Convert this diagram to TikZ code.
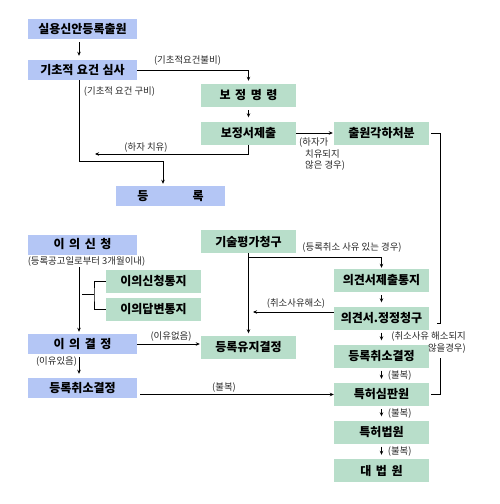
\documentclass[tikz,border=0pt]{standalone}
\usepackage{fontspec}
\setmainfont{Noto Sans CJK KR}
\usetikzlibrary{arrows.meta,positioning}
\definecolor{regblue}{RGB}{180,198,245}
\definecolor{mintgreen}{RGB}{184,222,202}
\definecolor{notegray}{RGB}{40,40,40}
\newcommand{\sgap}{\hspace{4.5pt}}

\begin{document}
\begin{tikzpicture}[x=1pt,y=-1pt,
  bluebox/.style={rectangle, fill=regblue, minimum width=109pt, minimum height=20pt, inner sep=0pt, font=\fontsize{12}{14}\selectfont\bfseries},
  greenbox/.style={rectangle, fill=mintgreen, minimum width=95pt, minimum height=23pt, inner sep=0pt, font=\fontsize{12}{14}\selectfont\bfseries},
  note/.style={font=\fontsize{9.4}{11.5}\selectfont, text=notegray, inner sep=0pt},
  flow/.style={-{Stealth[length=4pt,width=3.5pt]}, line width=0.8pt},
  link/.style={line width=0.8pt},
  hop/.style={flow, shorten <=3pt, shorten >=4pt}]
\useasboundingbox (0,0) rectangle (500,504);

% Application and formality check
\node[bluebox] (app) at (82.5,29) {실용신안등록출원};
\node[bluebox] (exam) at (82.5,70) {기초적\hspace{3.5pt}요건\hspace{3.5pt}심사};
\node[greenbox] (order) at (248.5,95.5) {보\sgap 정\sgap 명\sgap 령};
\node[greenbox] (amend) at (248.5,133) {보정서제출};
\node[greenbox] (reject) at (381.5,133) {출원각하처분};
\node[bluebox] (reg) at (170.5,196) {등\hspace{44pt}록};

% Opposition
\node[bluebox] (opp) at (82.5,244.5) {이\sgap 의\sgap 신\sgap 청};
\node[greenbox] (oppnote) at (153.5,281) {이의신청통지};
\node[greenbox] (oppreply) at (153.5,309) {이의답변통지};
\node[bluebox] (oppdec) at (82.5,344) {이\sgap 의\sgap 결\sgap 정};
\node[bluebox] (cancela) at (82.5,388) {등록취소결정};

% Technical evaluation and appeals
\node[greenbox] (evalreq) at (248.5,241.5) {기술평가청구};
\node[greenbox] (maintain) at (248.5,347) {등록유지결정};
\node[greenbox] (opinion) at (381.5,280.5) {의견서제출통지};
\node[greenbox] (correct) at (381.5,318) {의견서.정정청구};
\node[greenbox] (cancelb) at (381.5,356) {등록취소결정};
\node[greenbox] (trial) at (381.5,394.5) {특허심판원};
\node[greenbox] (court) at (381.5,432) {특허법원};
\node[greenbox] (supreme) at (381.5,470.5) {대\sgap 법\sgap 원};

% Formality check paths
\draw[hop] ([xshift=-3.5pt]app.south) -- ([xshift=-3.5pt]exam.north);
\draw[flow, shorten >=3pt] (exam.east) -| (order.north);
\node[note] (lblmissing) at (187.5,61) {(기초적요건불비)};
\draw[hop] (order.south) -- (amend.north);
\coordinate (regin) at (163,161);
\draw[flow, shorten >=2pt] ([xshift=-3.5pt]exam.south) |- (regin) -- (regin |- reg.north);
\node[note] (lblmet) at (119.5,92) {(기초적 요건 구비)};
\coordinate (cured) at (95,154);
\draw[flow] (amend.south) |- (cured);
\node[note] (lblcured) at (146,148) {(하자 치유)};
\draw[flow, shorten >=1pt] (amend.east) -- (reject.west);
\node[note, anchor=north west, align=left] (lblnotcured) at (299,138) {(하자가\\\hspace*{6pt}치유되지\\\hspace*{6pt}않은 경우)};

% Bracket down to the trial board
\coordinate (upbend) at (440,323);
\coordinate (lowbend) at (440,358);
\draw[link] ([xshift=2pt]reject.east) -| (upbend) -- ++(-3,0);
\draw[link] (lowbend) |- ([xshift=2pt]trial.east);

% Opposition paths
\node[note] (lblterm) at (86.5,262) {(등록공고일로부터 3개월이내)};
\coordinate (oppfrom) at (79,267);
\draw[flow, shorten >=2pt] (oppfrom) -- (oppfrom |- oppdec.north);
\coordinate (brk) at (94,294);
\draw[link] ([xshift=3pt]oppfrom |- brk) -- (brk);
\draw[link] (oppnote.west) -| (brk) |- (oppreply.west);
\draw[flow, shorten >=1pt] (oppdec.east) -- (oppdec.east -| maintain.west);
\node[note] (lblnogrounds) at (171,337) {(이유없음)};
\draw[hop] ([xshift=-3.5pt]oppdec.south) -- ([xshift=-3.5pt]cancela.north);
\node[note] (lblgrounds) at (56.5,362) {(이유있음)};
\draw[flow] ([xshift=3pt]cancela.east |- trial.west) -- (trial.west);
\node[note] (lblappeal) at (224,388) {(불복)};

% Evaluation paths
\draw[flow, shorten >=2pt] (evalreq.south) -- (maintain.north);
\coordinate (evalsplit) at (248.5,257);
\draw[flow, shorten >=1pt] (evalsplit) -| (opinion.north);
\node[note] (lblcause) at (352,248) {(등록취소 사유 있는 경우)};
\draw[hop] (opinion.south) -- (correct.north);
\coordinate (resolved) at (253,312);
\draw[flow] (correct.west |- resolved) -- (resolved);
\node[note] (lblresolved) at (296,304) {(취소사유해소)};
\draw[hop] (correct.south) -- (cancelb.north);
\node[note, anchor=north east, align=right] (lblunresolved) at (466,332) {(취소사유 해소되지\\않을경우)};
\foreach \from/\to in {cancelb/trial, trial/court, court/supreme}
  \draw[hop] (\from.south) -- node[note, anchor=west, xshift=6pt] (lbl\to) {(불복)} (\to.north);
\end{tikzpicture}
\end{document}
